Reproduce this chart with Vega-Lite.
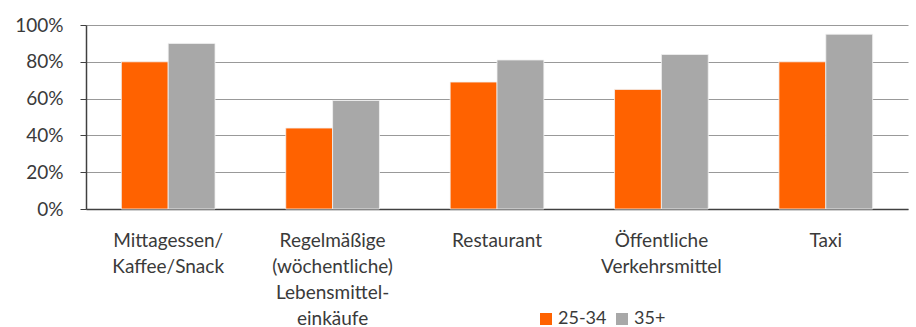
{
  "$schema": "https://vega.github.io/schema/vega-lite/v6.json",
  "autosize": {"type": "none"},
  "width": 822,
  "height": 184,
  "padding": {"left": 86, "top": 25, "right": 8, "bottom": 118},
  "background": "white",
  "config": {
    "font": "Lato",
    "view": {"stroke": null},
    "axis": {"labelFont": "Lato", "labelColor": "#3a3a3a", "labelFontSize": 19}
  },
  "data": {
    "values": [
      {"cat": "Mittagessen/|Kaffee/Snack", "group": "25-34", "value": 0.80},
      {"cat": "Mittagessen/|Kaffee/Snack", "group": "35+", "value": 0.90},
      {"cat": "Regelmäßige|(wöchentliche)|Lebensmittel-|einkäufe", "group": "25-34", "value": 0.44},
      {"cat": "Regelmäßige|(wöchentliche)|Lebensmittel-|einkäufe", "group": "35+", "value": 0.59},
      {"cat": "Restaurant", "group": "25-34", "value": 0.69},
      {"cat": "Restaurant", "group": "35+", "value": 0.81},
      {"cat": "Öffentliche|Verkehrsmittel", "group": "25-34", "value": 0.65},
      {"cat": "Öffentliche|Verkehrsmittel", "group": "35+", "value": 0.84},
      {"cat": "Taxi", "group": "25-34", "value": 0.80},
      {"cat": "Taxi", "group": "35+", "value": 0.95}
    ]
  },
  "mark": {"type": "bar", "stroke": "#f2f2f2", "strokeWidth": 0.8},
  "encoding": {
    "x": {
      "field": "cat",
      "type": "nominal",
      "sort": null,
      "title": null,
      "scale": {"paddingInner": 0.43, "paddingOuter": 0.215},
      "axis": {
        "labelExpr": "split(datum.label, '|')",
        "labelAngle": 0,
        "labelLineHeight": 26,
        "labelPadding": 31,
        "labelBaseline": "middle",
        "ticks": false,
        "domainColor": "#404040",
        "domainWidth": 1.5,
        "grid": false
      }
    },
    "xOffset": {"field": "group", "type": "nominal", "scale": {"paddingInner": 0}},
    "y": {
      "field": "value",
      "type": "quantitative",
      "title": null,
      "scale": {"domain": [0, 1], "nice": false},
      "axis": {
        "format": ".0%",
        "values": [0, 0.2, 0.4, 0.6, 0.8, 1],
        "grid": true,
        "gridColor": "#999999",
        "gridWidth": 1.2,
        "domainColor": "#404040",
        "domainWidth": 1.5,
        "tickColor": "#404040",
        "tickSize": 6,
        "labelPadding": 17
      }
    },
    "color": {
      "field": "group",
      "type": "nominal",
      "scale": {"domain": ["25-34", "35+"], "range": ["#FF6200", "#A8A8A8"]},
      "legend": {
        "title": null,
        "orient": "none",
        "direction": "horizontal",
        "legendX": 451,
        "legendY": 285,
        "symbolType": "square",
        "symbolSize": 144,
        "symbolStrokeWidth": 0,
        "labelFontSize": 18,
        "labelFont": "Lato",
        "labelColor": "#3a3a3a",
        "labelOffset": 3,
        "columnPadding": 6
      }
    }
  }
}
